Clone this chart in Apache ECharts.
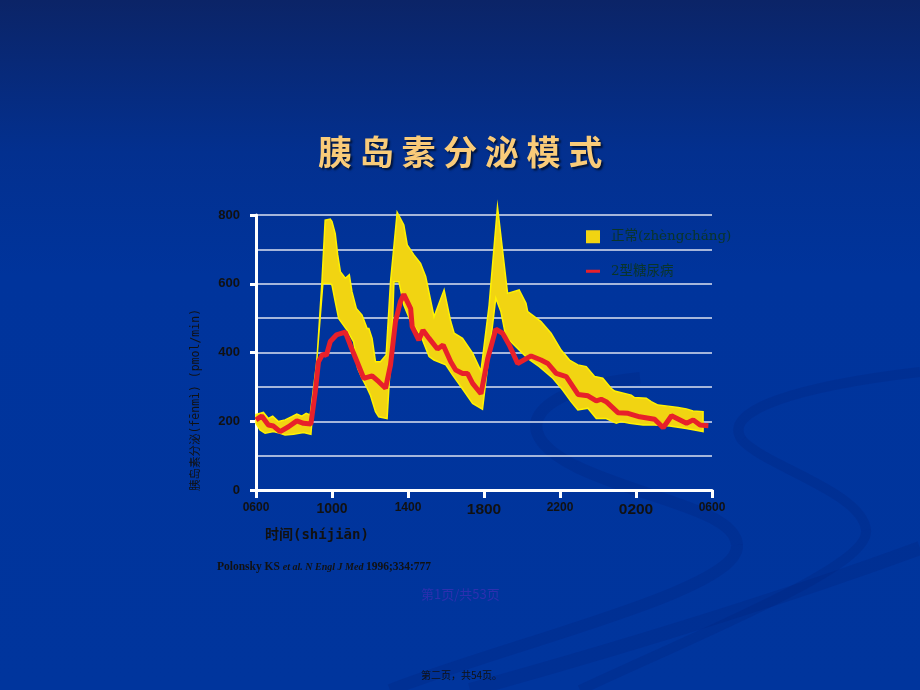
<!DOCTYPE html>
<html>
<head>
<meta charset="utf-8">
<script src="https://cdn.jsdelivr.net/npm/echarts@6/dist/echarts.min.js"></script>
<style>
  html, body { margin: 0; padding: 0; }
  #chart { width: 920px; height: 690px; }
</style>
</head>
<body>
<div id="chart"></div>
<script>
// hours after 06:00, insulin secretion (pmol/min)
const xTickLabels = ["0600", "1000", "1400", "1800", "2200", "0200", "0600"]
const yTickLabels = [0, 200, 400, 600, 800]

// normal range band: upper edge
const normalUpper = [
  [0, 220], [0.39, 226], [0.65, 208], [0.88, 215], [1.18, 199], [1.53, 204], [1.88, 213],
  [2.15, 221], [2.41, 215], [2.64, 223], [2.85, 218], [3.2, 373], [3.47, 606], [3.64, 785],
  [3.91, 788], [4.0, 781], [4.17, 746], [4.3, 684], [4.44, 635], [4.7, 616], [4.91, 626],
  [5.05, 577], [5.28, 528], [5.58, 509], [5.85, 470], [5.94, 470], [6.11, 441], [6.29, 373],
  [6.55, 373], [6.85, 393], [7.08, 606], [7.43, 808], [7.78, 771], [7.96, 713], [8.31, 684],
  [8.66, 659], [8.93, 621], [9.37, 504], [9.9, 582], [10.25, 490], [10.43, 456], [10.87, 441],
  [11.4, 398], [11.84, 346], [12.27, 538], [12.71, 824], [13.24, 572], [13.85, 582],
  [14.21, 543], [14.3, 519], [15.0, 490], [15.53, 456], [16.06, 407], [16.5, 378],
  [16.94, 364], [17.38, 359], [17.82, 330], [18.25, 325], [18.69, 296], [18.87, 288],
  [19.75, 276], [19.92, 269], [20.54, 267], [20.8, 257], [21.16, 247], [21.69, 244],
  [22.21, 240], [22.65, 236], [23.0, 230], [23.53, 228]
]
// normal range band: lower edge
const normalLower = [
  [0, 194], [0.21, 175], [0.48, 165], [0.92, 170], [1.27, 165], [1.53, 160], [1.97, 162],
  [2.5, 167], [2.89, 162], [3.52, 601], [3.91, 601], [4.0, 596], [4.17, 548], [4.35, 499],
  [4.79, 465], [5.14, 431], [5.35, 354], [5.58, 325], [5.85, 296], [6.02, 276], [6.29, 228],
  [6.46, 213], [6.9, 208], [7.17, 461], [7.26, 606], [7.52, 606], [7.78, 538], [8.14, 490],
  [8.66, 451], [9.11, 388], [9.37, 378], [9.99, 364], [10.34, 335], [10.78, 301], [11.4, 252],
  [11.92, 235], [12.62, 558], [12.89, 519], [13.15, 446], [13.77, 412], [14.3, 383],
  [14.91, 359], [15.62, 325], [16.14, 291], [16.58, 257], [16.94, 233], [17.47, 238],
  [17.91, 208], [18.43, 208], [18.96, 194], [19.22, 199], [19.66, 194], [20.37, 189],
  [20.98, 189], [21.77, 186], [22.65, 179], [23.53, 170]
]
// type 2 diabetes
const type2 = [
  [0, 204], [0.3, 215], [0.65, 189], [0.92, 186], [1.27, 170], [1.71, 184], [2.15, 201],
  [2.5, 194], [2.89, 192], [3.12, 286], [3.29, 373], [3.52, 396], [3.7, 391], [3.91, 432],
  [4.23, 451], [4.7, 459], [4.96, 422], [5.32, 373], [5.67, 325], [6.11, 332], [6.46, 315],
  [6.82, 296], [7.08, 364], [7.34, 490], [7.6, 548], [7.78, 569], [8.14, 528], [8.22, 475],
  [8.57, 436], [8.79, 465], [9.11, 441], [9.55, 410], [9.85, 422], [10.25, 373], [10.51, 349],
  [10.87, 339], [11.13, 339], [11.4, 310], [11.84, 280], [12.2, 383], [12.62, 468],
  [12.98, 456], [13.33, 422], [13.77, 368], [14.48, 390], [15.0, 378], [15.36, 368],
  [15.8, 339], [16.33, 330], [16.95, 278], [17.47, 274], [17.91, 259], [18.17, 264],
  [18.43, 257], [19.05, 225], [19.58, 223], [20.19, 213], [20.98, 206], [21.43, 181],
  [21.87, 216], [22.66, 194], [23.01, 204], [23.37, 189], [23.81, 187]
]

const bandPolygon = normalUpper.concat(normalLower.slice().reverse())

const sansFont = "'Liberation Sans', Arial, sans-serif"
const serifFont = "'Liberation Serif', 'DejaVu Serif', serif"
const cjkFont = "'Noto Sans CJK SC', sans-serif"
const monoFont = "'DejaVu Sans Mono', 'Noto Sans CJK SC', monospace"

// label size per x tick (as in the slide)
const xLabelStyle = ["s", "m", "s", "l", "s", "l", "s"]

// darker swirls in the slide background: [x1,y1, cpx1,cpy1, cpx2,cpy2, x2,y2, width]
const swirl = "rgba(0,32,115,0.2)"
const swirlSegs = [
  [640, 378, 540, 388, 500, 428, 575, 466, 12],
  [575, 466, 640, 498, 735, 510, 737, 545, 12],
  [737, 545, 740, 590, 520, 640, 390, 690, 12],
  [920, 372, 800, 386, 720, 410, 742, 440, 10],
  [742, 440, 765, 466, 862, 492, 866, 530, 10],
  [866, 530, 870, 565, 720, 625, 580, 690, 10],
  [920, 548, 800, 592, 650, 640, 470, 690, 14]
]
let swirlGraphics = swirlSegs.map(function (s) {
  return {
    type: "bezierCurve", z: -10, silent: true,
    shape: { x1: s[0], y1: s[1], cpx1: s[2], cpy1: s[3], cpx2: s[4], cpy2: s[5], x2: s[6], y2: s[7] },
    style: { stroke: swirl, lineWidth: s[8], fill: null, lineCap: "butt" }
  }
})

let option = {
  backgroundColor: {
    type: "linear", x: 0, y: 0, x2: 0, y2: 1,
    colorStops: [
      { offset: 0, color: "#0B2467" },
      { offset: 0.22, color: "#03308F" },
      { offset: 0.4, color: "#00349C" },
      { offset: 1, color: "#00359D" }
    ]
  },
  animation: false,
  title: {
    text: "胰 岛 素 分 泌 模 式",
    left: 313,
    top: 130,
    textStyle: {
      fontFamily: cjkFont,
      fontWeight: "bold",
      fontSize: 34,
      color: "#F9CB79",
      textShadowColor: "rgba(0,0,0,0.6)",
      textShadowBlur: 2,
      textShadowOffsetX: 2,
      textShadowOffsetY: 2
    }
  },
  grid: {
    left: 256,
    right: 208,
    top: 215,
    bottom: 200
  },
  legend: {
    orient: "vertical",
    left: 581,
    top: 225,
    itemWidth: 14,
    itemHeight: 13,
    itemGap: 21,
    textStyle: {
      fontFamily: "'DejaVu Serif', 'Noto Sans CJK SC', serif",
      fontSize: 13.5,
      color: "#0A3528",
      padding: [0, 0, 0, 6]
    },
    data: [
      { name: "正常(zhèngcháng)", icon: "rect" },
      { name: "2型糖尿病", icon: "path://M0,0L14,0L14,3L0,3Z" }
    ]
  },
  xAxis: {
    type: "value",
    min: 0,
    max: 24,
    interval: 4,
    axisLine: {
      show: true,
      lineStyle: { color: "#ffffff", width: 3 }
    },
    axisTick: {
      show: true,
      length: 8,
      lineStyle: { color: "#ffffff", width: 3 }
    },
    splitLine: { show: false },
    axisLabel: {
      margin: 12,
      formatter: function (v) {
        let i = Math.round(v / 4)
        return "{" + xLabelStyle[i] + "|" + xTickLabels[i] + "}"
      },
      rich: {
        s: { fontFamily: sansFont, fontWeight: "bold", fontSize: 12, color: "#111111" },
        m: { fontFamily: sansFont, fontWeight: "bold", fontSize: 14, color: "#111111" },
        l: { fontFamily: sansFont, fontWeight: "bold", fontSize: 15.5, color: "#111111" }
      }
    }
  },
  yAxis: {
    type: "value",
    min: 0,
    max: 800,
    interval: 200,
    minorTick: { show: false, splitNumber: 2 },
    minorSplitLine: {
      show: true,
      lineStyle: { color: "#DCE2F0", width: 1.6 }
    },
    splitLine: {
      show: true,
      lineStyle: { color: "#DCE2F0", width: 1.6 }
    },
    axisLine: {
      show: true,
      lineStyle: { color: "#ffffff", width: 3 }
    },
    axisTick: {
      show: true,
      length: 6,
      lineStyle: { color: "#ffffff", width: 3 }
    },
    axisLabel: {
      margin: 16,
      fontFamily: sansFont,
      fontWeight: "bold",
      fontSize: 13,
      color: "#111111",
      formatter: function (v) {
        return yTickLabels.indexOf(v) >= 0 ? String(v) : ""
      }
    }
  },
  graphic: swirlGraphics.concat([
    {
      type: "text",
      x: 196,
      y: 400,
      rotation: Math.PI / 2,
      style: {
        text: "胰岛素分泌(fēnmì) (pmol/min)",
        fontFamily: monoFont,
        fontSize: 11.5,
        fill: "#111111",
        align: "center",
        verticalAlign: "middle"
      }
    },
    {
      type: "text",
      left: 265,
      top: 528,
      style: {
        text: "时间(shíjiān)",
        fontFamily: monoFont,
        fontWeight: "bold",
        fontSize: 14,
        fill: "#111111"
      }
    },
    {
      type: "text",
      left: 217,
      top: 561,
      style: {
        text: "{b|Polonsky KS }{i|et al. N Engl J Med }{b|1996;334:777}",
        rich: {
          b: { fontFamily: serifFont, fontWeight: "bold", fontSize: 11.5, fill: "#111111" },
          i: { fontFamily: serifFont, fontWeight: "bold", fontStyle: "italic", fontSize: 10, fill: "#111111" }
        }
      }
    },
    {
      type: "text",
      left: 421,
      top: 588,
      style: {
        text: "第1页/共53页",
        fontFamily: cjkFont,
        fontSize: 13,
        fill: "#2C30B0"
      }
    },
    {
      type: "text",
      left: 421,
      top: 670,
      style: {
        text: "第二页，共54页。",
        fontFamily: "'Noto Sans CJK SC', serif",
        fontSize: 10,
        fill: "#111111"
      }
    }
  ]),
  series: [
    {
      name: "正常(zhèngcháng)",
      type: "custom",
      z: 2,
      itemStyle: { color: "#F1D412" },
      encode: { x: 0, y: 1 },
      data: bandPolygon,
      renderItem: function (params, api) {
        if (params.dataIndex !== 0) return
        let pts = bandPolygon.map(function (p) { return api.coord(p) })
        return {
          type: "polygon",
          shape: { points: pts },
          style: { fill: "#F1D412", stroke: "#FFF200", lineWidth: 1.5 }
        }
      }
    },
    {
      name: "2型糖尿病",
      type: "line",
      z: 3,
      showSymbol: false,
      symbol: "none",
      itemStyle: { color: "#E8202A" },
      lineStyle: { color: "#E8202A", width: 5 },
      data: type2
    }
  ]
}

let chartEl = echarts.init(document.getElementById("chart"))
chartEl.setOption(option)
</script>
</body>
</html>
